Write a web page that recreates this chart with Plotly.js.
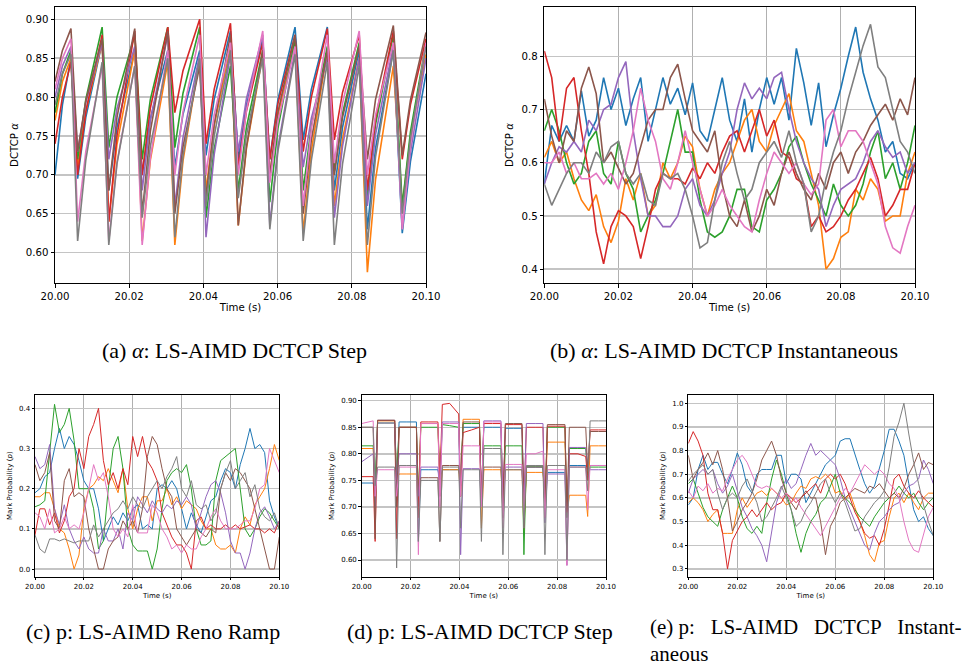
<!DOCTYPE html>
<html><head><meta charset="utf-8">
<script src="https://cdn.plot.ly/plotly-3.0.1.min.js"></script>
<style>html,body{margin:0;padding:0;background:#fff;}#chart{width:966px;height:668px;}</style>
</head><body><div id="chart"></div>
<script>
const seriesColors = ['#1f77b4','#ff7f0e','#2ca02c','#d62728','#9467bd','#8c564b','#e377c2','#7f7f7f'];
const xTickVals = [20.00,20.02,20.04,20.06,20.08,20.10];

// time offsets in ms after 20 s
const msA = [0,2,4.3,6.1,8.3,12.7,14.5,16.7,21.5,23.5,25.7,30.4,32.3,34.5,39.0,40.7,42.9,47.3,49.4,51.6,56.0,57.9,60.1,64.7,66.9,69.1,73.4,75.3,77.5,82.0,84.2,86.4,91.2,93.6,95.8,100];
const msD = [0,4.7,5.5,6.5,9.5,13.5,14.3,15.3,18.5,22.4,23.2,24.2,27.5,31.2,32.0,33.0,36.0,39.7,40.5,41.5,45.0,48.2,49.0,50.0,53.5,57.0,57.8,58.8,62.0,65.6,66.4,67.4,71.0,74.2,75.0,76.0,79.5,83.2,84.0,85.0,88.5,91.7,92.5,93.5,97.0,100];
const ms2 = [0,2,4,6,8,10,12,14,16,18,20,22,24,26,28,30,32,34,36,38,40,42,44,46,48,50,52,54,56,58,60,62,64,66,68,70,72,74,76,78,80,82,84,86,88,90,92,94,96,98,100];

// (a) alpha, DCTCP Step
const aBlue   = [0.70,0.79,0.85,0.695,0.774,0.87,0.68,0.761,0.86,0.70,0.772,0.86,0.71,0.778,0.86,0.725,0.797,0.885,0.72,0.79,0.875,0.72,0.797,0.89,0.745,0.81,0.89,0.68,0.761,0.86,0.63,0.734,0.86,0.625,0.717,0.83];
const aOrange = [0.77,0.82,0.85,0.71,0.782,0.87,0.64,0.739,0.86,0.615,0.719,0.845,0.61,0.718,0.85,0.68,0.763,0.865,0.635,0.734,0.855,0.70,0.777,0.87,0.625,0.731,0.86,0.66,0.746,0.85,0.575,0.694,0.84,0.66,0.748,0.855];
const aGreen  = [0.78,0.83,0.86,0.72,0.797,0.89,0.735,0.80,0.88,0.72,0.797,0.89,0.735,0.805,0.89,0.645,0.733,0.84,0.68,0.761,0.86,0.665,0.76,0.875,0.68,0.763,0.865,0.705,0.779,0.87,0.67,0.765,0.88,0.66,0.755,0.87];
const aRed    = [0.74,0.80,0.845,0.70,0.781,0.88,0.64,0.75,0.885,0.70,0.786,0.89,0.78,0.834,0.90,0.74,0.81,0.895,0.71,0.782,0.87,0.72,0.792,0.88,0.73,0.80,0.888,0.745,0.806,0.88,0.68,0.772,0.885,0.72,0.79,0.875];
const aPurple = [0.80,0.84,0.865,0.73,0.793,0.87,0.72,0.785,0.865,0.68,0.77,0.88,0.66,0.748,0.855,0.62,0.726,0.855,0.73,0.798,0.88,0.635,0.736,0.86,0.71,0.773,0.85,0.645,0.737,0.85,0.66,0.752,0.865,0.63,0.729,0.85];
const aBrown  = [0.82,0.86,0.888,0.73,0.795,0.875,0.68,0.774,0.888,0.65,0.756,0.885,0.65,0.736,0.84,0.67,0.765,0.88,0.635,0.736,0.86,0.70,0.781,0.88,0.65,0.745,0.86,0.70,0.774,0.865,0.72,0.797,0.892,0.725,0.796,0.883];
const aPink   = [0.81,0.85,0.875,0.64,0.73,0.84,0.615,0.716,0.84,0.61,0.722,0.86,0.70,0.781,0.88,0.70,0.777,0.87,0.70,0.783,0.885,0.69,0.769,0.865,0.66,0.759,0.88,0.715,0.792,0.885,0.70,0.777,0.87,0.63,0.738,0.87];
const aGray   = [0.79,0.83,0.855,0.615,0.719,0.845,0.61,0.714,0.84,0.645,0.737,0.85,0.62,0.724,0.85,0.66,0.75,0.86,0.67,0.751,0.85,0.63,0.731,0.855,0.615,0.719,0.845,0.61,0.714,0.84,0.61,0.723,0.86,0.65,0.747,0.865];

// (b) alpha, DCTCP Instantaneous
const bBlue   = [0.56,0.67,0.64,0.67,0.64,0.735,0.65,0.68,0.76,0.70,0.74,0.67,0.72,0.76,0.64,0.70,0.76,0.71,0.74,0.69,0.75,0.66,0.64,0.70,0.76,0.68,0.64,0.72,0.62,0.70,0.76,0.71,0.76,0.68,0.815,0.75,0.67,0.75,0.63,0.69,0.74,0.80,0.855,0.77,0.72,0.68,0.62,0.64,0.58,0.57,0.60];
const bOrange = [0.61,0.64,0.60,0.62,0.57,0.53,0.51,0.54,0.48,0.45,0.49,0.57,0.53,0.58,0.50,0.52,0.60,0.57,0.60,0.65,0.63,0.55,0.50,0.55,0.58,0.60,0.64,0.68,0.70,0.64,0.62,0.67,0.70,0.73,0.66,0.64,0.58,0.52,0.40,0.42,0.46,0.47,0.55,0.53,0.57,0.55,0.49,0.50,0.50,0.58,0.62];
const bGreen  = [0.66,0.70,0.66,0.60,0.56,0.58,0.64,0.66,0.58,0.56,0.64,0.58,0.55,0.47,0.50,0.53,0.58,0.64,0.70,0.62,0.62,0.53,0.47,0.46,0.47,0.50,0.55,0.55,0.48,0.47,0.53,0.55,0.58,0.63,0.65,0.60,0.56,0.53,0.50,0.56,0.52,0.50,0.52,0.56,0.62,0.66,0.57,0.60,0.55,0.60,0.67];
const bRed    = [0.81,0.76,0.64,0.74,0.76,0.66,0.58,0.47,0.41,0.48,0.51,0.50,0.48,0.42,0.48,0.55,0.58,0.57,0.57,0.56,0.59,0.57,0.60,0.58,0.62,0.65,0.66,0.62,0.66,0.70,0.65,0.68,0.62,0.61,0.57,0.56,0.48,0.50,0.47,0.48,0.50,0.53,0.55,0.58,0.61,0.57,0.50,0.52,0.55,0.55,0.60];
const bPurple = [0.56,0.60,0.63,0.62,0.64,0.62,0.68,0.66,0.70,0.71,0.76,0.79,0.66,0.57,0.50,0.50,0.48,0.48,0.50,0.55,0.57,0.52,0.50,0.53,0.58,0.62,0.70,0.75,0.72,0.74,0.72,0.76,0.77,0.70,0.64,0.60,0.57,0.55,0.48,0.52,0.55,0.56,0.57,0.60,0.64,0.66,0.63,0.61,0.62,0.58,0.60];
const bBrown  = [0.72,0.65,0.60,0.66,0.64,0.74,0.78,0.73,0.60,0.62,0.59,0.56,0.58,0.63,0.68,0.70,0.70,0.76,0.785,0.72,0.66,0.64,0.62,0.66,0.56,0.50,0.48,0.53,0.47,0.50,0.55,0.52,0.58,0.62,0.58,0.55,0.53,0.58,0.55,0.60,0.62,0.58,0.62,0.64,0.67,0.69,0.71,0.68,0.72,0.69,0.76];
const bPink   = [0.60,0.60,0.62,0.58,0.60,0.57,0.57,0.58,0.56,0.58,0.55,0.60,0.66,0.74,0.68,0.64,0.57,0.55,0.60,0.66,0.60,0.55,0.50,0.52,0.55,0.52,0.50,0.48,0.47,0.53,0.58,0.62,0.60,0.58,0.60,0.56,0.54,0.56,0.68,0.70,0.63,0.66,0.66,0.64,0.60,0.56,0.48,0.44,0.43,0.48,0.52];
const bGray   = [0.56,0.52,0.55,0.58,0.60,0.60,0.58,0.62,0.60,0.63,0.64,0.58,0.56,0.58,0.53,0.52,0.58,0.57,0.58,0.55,0.50,0.44,0.45,0.53,0.60,0.64,0.58,0.53,0.55,0.60,0.62,0.64,0.61,0.66,0.60,0.56,0.47,0.50,0.57,0.62,0.66,0.72,0.77,0.82,0.86,0.78,0.76,0.70,0.64,0.62,0.58];

// (c) p, Reno Ramp
const cBlue   = [0.19,0.20,0.23,0.24,0.30,0.35,0.30,0.33,0.31,0.27,0.22,0.20,0.20,0.15,0.07,0.10,0.13,0.11,0.14,0.12,0.15,0.16,0.10,0.11,0.10,0.20,0.21,0.20,0.22,0.20,0.15,0.10,0.14,0.11,0.09,0.13,0.17,0.18,0.22,0.25,0.24,0.20,0.26,0.30,0.35,0.30,0.31,0.29,0.17,0.13,0.10];
const cOrange = [0.18,0.18,0.19,0.19,0.15,0.10,0.09,0.05,0.0,0.035,0.15,0.20,0.21,0.23,0.22,0.25,0.22,0.19,0.25,0.15,0.10,0.15,0.18,0.18,0.12,0.17,0.17,0.20,0.16,0.18,0.15,0.17,0.16,0.15,0.12,0.10,0.10,0.06,0.05,0.05,0.06,0.04,0.10,0.13,0.11,0.16,0.18,0.20,0.25,0.31,0.27];
const cGreen  = [0.155,0.16,0.17,0.30,0.41,0.34,0.36,0.40,0.32,0.20,0.20,0.20,0.15,0.05,0.07,0.20,0.30,0.33,0.25,0.10,0.06,0.045,0.045,0.045,0.0,0.05,0.15,0.22,0.24,0.25,0.24,0.26,0.20,0.10,0.06,0.06,0.07,0.22,0.27,0.28,0.29,0.30,0.20,0.10,0.08,0.10,0.13,0.15,0.14,0.12,0.10];
const cRed    = [0.085,0.15,0.15,0.11,0.14,0.09,0.12,0.18,0.20,0.30,0.25,0.33,0.36,0.40,0.27,0.21,0.24,0.20,0.25,0.21,0.33,0.28,0.33,0.27,0.25,0.22,0.14,0.11,0.08,0.06,0.06,0.04,0.0,0.12,0.13,0.10,0.11,0.10,0.10,0.11,0.10,0.11,0.10,0.105,0.11,0.10,0.10,0.09,0.10,0.09,0.12];
const cPurple = [0.28,0.25,0.26,0.31,0.15,0.11,0.16,0.10,0.07,0.05,0.08,0.05,0.04,0.04,0.10,0.07,0.07,0.10,0.05,0.14,0.12,0.18,0.16,0.14,0.17,0.15,0.14,0.16,0.15,0.17,0.16,0.18,0.16,0.10,0.14,0.18,0.21,0.22,0.19,0.14,0.07,0.04,0.04,0.0,0.04,0.10,0.14,0.155,0.13,0.10,0.12];
const cBrown  = [0.26,0.22,0.24,0.29,0.12,0.10,0.22,0.25,0.18,0.19,0.18,0.10,0.05,0.0,0.0,0.05,0.07,0.08,0.12,0.10,0.12,0.09,0.15,0.28,0.33,0.31,0.25,0.20,0.18,0.10,0.08,0.06,0.08,0.10,0.09,0.08,0.10,0.09,0.20,0.24,0.22,0.25,0.24,0.22,0.20,0.15,0.10,0.05,0.0,0.0,0.08];
const cPink   = [0.14,0.13,0.10,0.15,0.09,0.10,0.13,0.10,0.11,0.10,0.14,0.20,0.26,0.22,0.24,0.18,0.10,0.08,0.10,0.08,0.16,0.09,0.09,0.09,0.16,0.14,0.10,0.08,0.05,0.06,0.04,0.06,0.05,0.05,0.08,0.10,0.13,0.15,0.12,0.10,0.10,0.10,0.11,0.12,0.12,0.15,0.20,0.21,0.30,0.27,0.24];
const cGray   = [0.085,0.05,0.04,0.075,0.075,0.07,0.075,0.07,0.065,0.07,0.07,0.07,0.11,0.08,0.10,0.12,0.14,0.15,0.17,0.15,0.18,0.16,0.15,0.18,0.20,0.22,0.20,0.23,0.25,0.28,0.20,0.18,0.22,0.16,0.15,0.16,0.12,0.14,0.20,0.24,0.27,0.20,0.22,0.24,0.18,0.21,0.15,0.13,0.12,0.14,0.10];

// (d) p, DCTCP Step
const dBlue   = [0.745,0.745,0.73,0.863,0.863,0.863,0.71,0.86,0.86,0.86,0.635,0.77,0.77,0.77,0.75,0.77,0.77,0.77,0.75,0.85,0.85,0.85,0.72,0.85,0.85,0.85,0.70,0.848,0.848,0.848,0.72,0.775,0.775,0.775,0.70,0.765,0.765,0.765,0.68,0.778,0.778,0.778,0.75,0.778,0.778,0.778];
const dOrange = [0.81,0.81,0.72,0.862,0.862,0.862,0.75,0.762,0.762,0.762,0.68,0.857,0.857,0.857,0.72,0.77,0.77,0.77,0.72,0.865,0.865,0.865,0.66,0.77,0.77,0.77,0.70,0.77,0.77,0.77,0.65,0.765,0.765,0.765,0.70,0.822,0.822,0.822,0.68,0.722,0.722,0.722,0.682,0.815,0.815,0.815];
const dGreen  = [0.815,0.815,0.74,0.858,0.858,0.858,0.755,0.85,0.85,0.85,0.72,0.85,0.85,0.85,0.75,0.855,0.853,0.85,0.74,0.857,0.857,0.857,0.70,0.815,0.815,0.815,0.68,0.815,0.815,0.815,0.61,0.777,0.777,0.777,0.70,0.85,0.85,0.85,0.68,0.81,0.81,0.81,0.76,0.775,0.775,0.775];
const dRed    = [0.757,0.757,0.635,0.863,0.863,0.863,0.64,0.85,0.85,0.85,0.70,0.86,0.86,0.86,0.75,0.893,0.895,0.875,0.72,0.84,0.845,0.85,0.72,0.857,0.857,0.857,0.70,0.855,0.855,0.855,0.70,0.85,0.85,0.85,0.68,0.852,0.852,0.852,0.69,0.80,0.80,0.795,0.75,0.845,0.845,0.845];
const dPurple = [0.785,0.80,0.70,0.858,0.858,0.858,0.75,0.80,0.80,0.80,0.72,0.775,0.775,0.775,0.72,0.86,0.86,0.86,0.61,0.772,0.772,0.772,0.70,0.862,0.862,0.862,0.70,0.775,0.775,0.775,0.70,0.857,0.857,0.857,0.67,0.762,0.762,0.762,0.59,0.812,0.812,0.812,0.775,0.77,0.77,0.77];
const dBrown  = [0.85,0.85,0.64,0.863,0.863,0.863,0.70,0.85,0.85,0.85,0.68,0.755,0.755,0.755,0.635,0.778,0.778,0.778,0.74,0.86,0.86,0.86,0.70,0.775,0.775,0.775,0.68,0.857,0.857,0.857,0.66,0.775,0.775,0.775,0.70,0.855,0.855,0.855,0.69,0.85,0.85,0.85,0.77,0.842,0.842,0.842];
const dPink   = [0.857,0.862,0.72,0.77,0.77,0.77,0.72,0.775,0.775,0.775,0.61,0.857,0.857,0.857,0.70,0.857,0.857,0.857,0.72,0.815,0.815,0.815,0.70,0.86,0.86,0.86,0.66,0.78,0.78,0.78,0.68,0.80,0.80,0.805,0.68,0.77,0.77,0.77,0.59,0.775,0.775,0.775,0.695,0.778,0.778,0.778];
const dGray   = [0.85,0.85,0.74,0.775,0.775,0.775,0.585,0.778,0.778,0.778,0.635,0.75,0.75,0.75,0.635,0.775,0.775,0.775,0.66,0.77,0.77,0.77,0.635,0.81,0.81,0.81,0.61,0.77,0.77,0.77,0.66,0.778,0.778,0.778,0.61,0.778,0.778,0.778,0.60,0.775,0.775,0.775,0.73,0.862,0.862,0.862];

// (e) p, DCTCP Instantaneous
const eBlue   = [0.57,0.60,0.72,0.78,0.72,0.75,0.75,0.70,0.66,0.72,0.79,0.74,0.65,0.62,0.70,0.72,0.72,0.72,0.78,0.78,0.66,0.70,0.70,0.68,0.58,0.62,0.66,0.70,0.74,0.76,0.78,0.84,0.85,0.85,0.78,0.72,0.66,0.62,0.65,0.72,0.80,0.89,0.89,0.84,0.78,0.66,0.55,0.50,0.52,0.47,0.44];
const eOrange = [0.58,0.60,0.58,0.55,0.50,0.53,0.55,0.45,0.45,0.45,0.55,0.60,0.56,0.59,0.62,0.63,0.61,0.64,0.62,0.60,0.57,0.58,0.62,0.65,0.64,0.68,0.69,0.68,0.70,0.68,0.62,0.63,0.59,0.62,0.56,0.50,0.44,0.36,0.33,0.41,0.42,0.52,0.60,0.62,0.58,0.62,0.58,0.55,0.60,0.62,0.62];
const eGreen  = [0.66,0.68,0.62,0.56,0.52,0.50,0.48,0.55,0.60,0.65,0.60,0.52,0.47,0.45,0.48,0.45,0.58,0.68,0.76,0.70,0.62,0.55,0.45,0.37,0.45,0.50,0.53,0.58,0.60,0.65,0.70,0.62,0.60,0.58,0.55,0.52,0.50,0.48,0.52,0.55,0.58,0.60,0.62,0.65,0.62,0.60,0.62,0.58,0.55,0.58,0.60];
const eRed    = [0.83,0.88,0.84,0.78,0.62,0.55,0.55,0.45,0.30,0.42,0.46,0.50,0.52,0.55,0.52,0.55,0.58,0.55,0.57,0.58,0.62,0.60,0.58,0.60,0.62,0.64,0.66,0.62,0.68,0.70,0.68,0.70,0.66,0.60,0.54,0.50,0.45,0.43,0.44,0.40,0.47,0.57,0.68,0.70,0.65,0.62,0.60,0.63,0.60,0.58,0.56];
const ePurple = [0.62,0.68,0.70,0.72,0.70,0.72,0.66,0.62,0.65,0.70,0.63,0.56,0.52,0.47,0.44,0.40,0.33,0.45,0.58,0.64,0.68,0.64,0.66,0.72,0.78,0.83,0.78,0.80,0.78,0.76,0.74,0.68,0.60,0.55,0.50,0.45,0.40,0.38,0.45,0.50,0.52,0.55,0.57,0.58,0.62,0.65,0.66,0.68,0.76,0.72,0.66];
const eBrown  = [0.78,0.68,0.72,0.75,0.79,0.74,0.80,0.72,0.60,0.46,0.50,0.55,0.58,0.62,0.68,0.76,0.80,0.84,0.78,0.68,0.62,0.58,0.55,0.60,0.63,0.60,0.60,0.50,0.36,0.48,0.52,0.58,0.60,0.62,0.64,0.63,0.62,0.65,0.64,0.66,0.63,0.60,0.62,0.60,0.64,0.70,0.74,0.79,0.72,0.75,0.74];
const ePink   = [0.63,0.60,0.65,0.63,0.66,0.62,0.64,0.63,0.68,0.72,0.76,0.78,0.75,0.70,0.65,0.64,0.65,0.64,0.62,0.60,0.62,0.58,0.60,0.56,0.53,0.50,0.47,0.44,0.48,0.52,0.56,0.60,0.64,0.62,0.66,0.70,0.74,0.72,0.70,0.72,0.70,0.66,0.64,0.60,0.50,0.42,0.38,0.37,0.45,0.52,0.56];
const eGray   = [0.67,0.70,0.72,0.74,0.70,0.72,0.62,0.55,0.60,0.62,0.60,0.65,0.68,0.63,0.58,0.50,0.52,0.56,0.60,0.65,0.60,0.55,0.48,0.50,0.55,0.58,0.62,0.66,0.68,0.62,0.58,0.62,0.58,0.52,0.46,0.47,0.52,0.55,0.58,0.60,0.63,0.73,0.86,0.92,1.0,0.87,0.75,0.66,0.57,0.50,0.44];

const W = 966, H = 668;
const traces = [];
function addPanel(ms, ys, n, width) {
  const xs = ms.map(m => 20 + m / 1000);
  ys.forEach((y, i) => traces.push({
    x: xs, y: y, xaxis: 'x' + (n === 1 ? '' : n), yaxis: 'y' + (n === 1 ? '' : n),
    type: 'scatter', mode: 'lines', hoverinfo: 'skip', showlegend: false,
    line: {color: seriesColors[i], width: width}
  }));
}
addPanel(msA, [aBlue,aOrange,aGreen,aRed,aPurple,aBrown,aPink,aGray], 1, 1.6);
addPanel(ms2, [bBlue,bOrange,bGreen,bRed,bPurple,bBrown,bPink,bGray], 2, 1.6);
addPanel(ms2, [cBlue,cOrange,cGreen,cRed,cPurple,cBrown,cPink,cGray], 3, 1.0);
addPanel(msD, [dBlue,dOrange,dGreen,dRed,dPurple,dBrown,dPink,dGray], 4, 1.0);
addPanel(ms2, [eBlue,eOrange,eGreen,eRed,ePurple,eBrown,ePink,eGray], 5, 1.0);

const px = v => v / W, py = v => 1 - v / H;
function xAxis(l, r, anchor, fs, tl) {
  return {domain: [px(l), px(r)], anchor: anchor, range: [20, 20.1], tickvals: xTickVals, tickformat: '.2f',
    showgrid: true, gridcolor: '#b0b0b0', gridwidth: 1, zeroline: false,
    showline: true, mirror: true, linecolor: '#000', linewidth: 1,
    ticks: 'outside', ticklen: tl, tickwidth: 1, tickcolor: '#000',
    tickfont: {family: 'DejaVu Sans', size: fs, color: '#000'},
    title: {text: 'Time (s)', font: {family: 'DejaVu Sans', size: fs, color: '#000'}, standoff: 3}};
}
function yAxis(t, b, anchor, range, vals, fmt, fs, tl, label) {
  return {domain: [py(b), py(t)], anchor: anchor, range: range, tickvals: vals, tickformat: fmt,
    showgrid: true, gridcolor: '#c4c4c4', gridwidth: 1.4, zeroline: false,
    showline: true, mirror: true, linecolor: '#000', linewidth: 1,
    ticks: 'outside', ticklen: tl, tickwidth: 1, tickcolor: '#000',
    tickfont: {family: 'DejaVu Sans', size: fs, color: '#000'},
    title: {text: label, font: {family: 'DejaVu Sans', size: fs, color: '#000'}, standoff: 5}};
}
const capFont = {family: 'Liberation Serif', size: 22, color: '#000'};
const capFontE = {family: 'Liberation Serif', size: 21, color: '#000'};
const layout = {
  width: W, height: H, margin: {l: 0, r: 0, t: 0, b: 0},
  paper_bgcolor: '#fff', plot_bgcolor: '#fff', showlegend: false,
  xaxis:  xAxis(55, 426, 'y', 10.2, 3.5),
  yaxis:  yAxis(7, 283, 'x', [0.561, 0.9158], [0.60,0.65,0.70,0.75,0.80,0.85,0.90], '.2f', 10.2, 3.5, 'DCTCP <i>α</i>'),
  xaxis2: xAxis(544.3, 915, 'y2', 10.2, 3.5),
  yaxis2: yAxis(7, 283, 'x2', [0.374, 0.8926], [0.4,0.5,0.6,0.7,0.8], '.1f', 10.2, 3.5, 'DCTCP <i>α</i>'),
  xaxis3: xAxis(35, 279.3, 'y3', 7, 2.5),
  yaxis3: yAxis(394.7, 576.7, 'x3', [-0.019, 0.434], [0.0,0.1,0.2,0.3,0.4], '.1f', 7, 2.5, 'Mark Probability (<i>p</i>)'),
  xaxis4: xAxis(361.7, 606, 'y4', 7, 2.5),
  yaxis4: yAxis(394.7, 576.7, 'x4', [0.5686, 0.9113], [0.60,0.65,0.70,0.75,0.80,0.85,0.90], '.2f', 7, 2.5, 'Mark Probability (<i>p</i>)'),
  xaxis5: xAxis(688.3, 933.3, 'y5', 7, 2.5),
  yaxis5: yAxis(394.7, 576.7, 'x5', [0.267, 1.036], [0.3,0.4,0.5,0.6,0.7,0.8,0.9,1.0], '.1f', 7, 2.5, 'Mark Probability (<i>p</i>)'),
  annotations: [
    {xref: 'paper', yref: 'paper', x: px(234), y: py(350), xanchor: 'center', yanchor: 'middle', showarrow: false, font: capFont, text: '(a) <i>α</i>: LS-AIMD DCTCP Step'},
    {xref: 'paper', yref: 'paper', x: px(724), y: py(350), xanchor: 'center', yanchor: 'middle', showarrow: false, font: capFont, text: '(b) <i>α</i>: LS-AIMD DCTCP Instantaneous'},
    {xref: 'paper', yref: 'paper', x: px(153), y: py(631.7), xanchor: 'center', yanchor: 'middle', showarrow: false, font: capFont, text: '(c) p: LS-AIMD Reno Ramp'},
    {xref: 'paper', yref: 'paper', x: px(479.5), y: py(631.7), xanchor: 'center', yanchor: 'middle', showarrow: false, font: capFont, text: '(d) p: LS-AIMD DCTCP Step'},
    {xref: 'paper', yref: 'paper', x: px(649), y: py(667), xanchor: 'left', yanchor: 'bottom', align: 'left', showarrow: false, borderpad: 0, font: capFontE,
     text: '(e) p:&nbsp;&nbsp; LS-AIMD&nbsp;&nbsp; DCTCP&nbsp;&nbsp; Instant-<br>aneous'}
  ]
};
Plotly.newPlot('chart', traces, layout, {staticPlot: true, displayModeBar: false});
</script>
</body></html>
